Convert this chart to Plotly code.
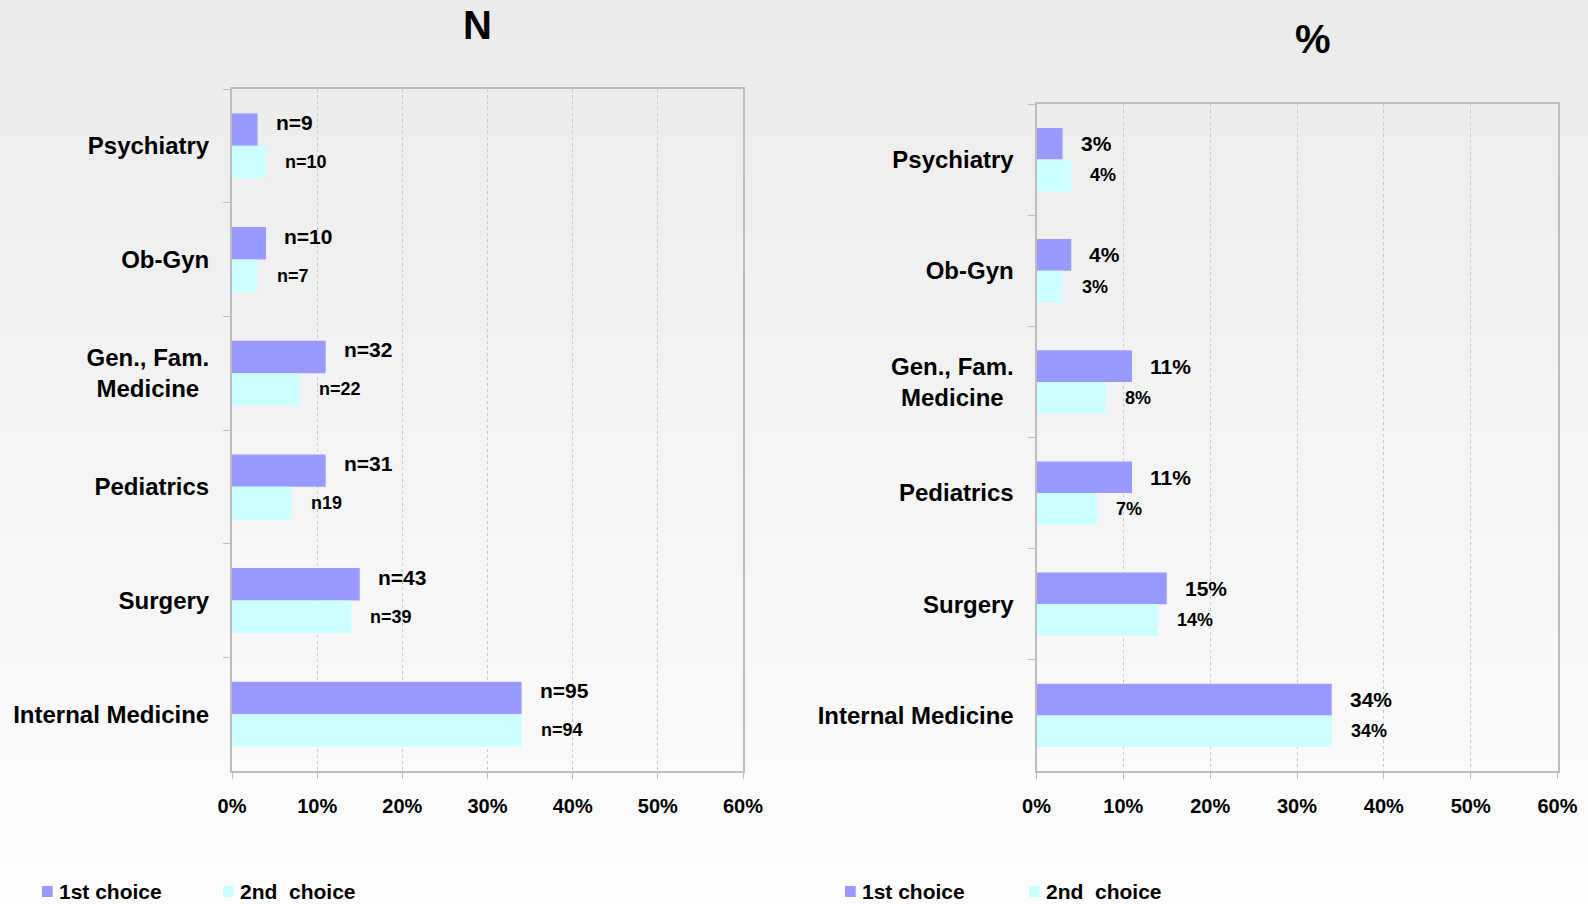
import plotly.graph_objects as go

# ---- data -------------------------------------------------------------
specialties = [
    "Psychiatry",
    "Ob-Gyn",
    "Gen., Fam.<br>Medicine\u2005\u2006",
    "Pediatrics",
    "Surgery",
    "Internal Medicine",
]
first_pct = [3, 4, 11, 11, 15, 34]
second_pct = [4, 3, 8, 7, 14, 34]
first_n = ["n=9", "n=10", "n=32", "n=31", "n=43", "n=95"]
second_n = ["n=10", "n=7", "n=22", "n19", "n=39", "n=94"]
x_ticks = [0, 10, 20, 30, 40, 50, 60]
x_tick_text = ["0%", "10%", "20%", "30%", "40%", "50%", "60%"]
series_names = ["1st choice", "2nd\u00a0 choice"]
panel_titles = ["N", "%"]

# ---- styling ------------------------------------------------------------
W, H = 1588, 904
FONT = "Liberation Sans, Arial, sans-serif"
C_FIRST = "#9999FF"
C_SECOND = "#CCFFFF"
FRAME = "#BDBDBD"
GRID = "#C8C8C8"
BARGAP = 0.43
BAR_OFF = (1 - BARGAP) / 4  # centre of each bar within its category slot


def px_x(x):
    return x / W


def px_y(y):
    return 1 - y / H


fig = go.Figure()

panels = [
    dict(xa="x", ya="y", labels=(first_n, second_n), lift=7),
    dict(xa="x2", ya="y2",
         labels=([f"{v}%" for v in first_pct], [f"{v}%" for v in second_pct]), lift=0),
]

annotations = []
for p in panels:
    for name, vals, col in ((series_names[0], first_pct, C_FIRST),
                            (series_names[1], second_pct, C_SECOND)):
        fig.add_trace(go.Bar(
            x=vals, y=specialties, orientation="h", name=name,
            marker=dict(color=col, line=dict(width=0)),
            xaxis=p["xa"], yaxis=p["ya"], showlegend=False,
            hoverinfo="x+y",
        ))
    lab1, lab2 = p["labels"]
    for i in range(len(specialties)):
        annotations.append(dict(
            x=first_pct[i], y=i - BAR_OFF, xref=p["xa"], yref=p["ya"],
            text=lab1[i], showarrow=False, xanchor="left", yanchor="middle",
            xshift=16, yshift=p["lift"],
            font=dict(family=FONT, size=21, color="black", weight="bold"),
        ))
        annotations.append(dict(
            x=second_pct[i], y=i + BAR_OFF, xref=p["xa"], yref=p["ya"],
            text=lab2[i], showarrow=False, xanchor="left", yanchor="middle",
            xshift=17,
            font=dict(family=FONT, size=18, color="black", weight="bold"),
        ))

xaxis_common = dict(
    range=[0, 60], tickmode="array", tickvals=x_ticks, ticktext=x_tick_text,
    showgrid=True, gridcolor=GRID, griddash="dot", gridwidth=1,
    showline=True, linecolor=FRAME, linewidth=2, mirror=True,
    ticks="outside", ticklen=6, tickcolor=FRAME, tickwidth=1,
    tickfont=dict(family=FONT, size=20, color="black", weight="bold"),
    ticklabelstandoff=10, zeroline=False, fixedrange=True, automargin=False,
)
yaxis_common = dict(
    type="category", autorange="reversed",
    showline=True, linecolor=FRAME, linewidth=2, mirror=True,
    ticks="outside", ticklen=7, tickcolor=FRAME, tickwidth=1,
    tickson="boundaries", showgrid=False, zeroline=False,
    tickfont=dict(family=FONT, size=24, color="black", weight="bold"),
    ticklabelstandoff=16, fixedrange=True, automargin=False,
)

fig.update_layout(
    xaxis=dict(xaxis_common, domain=[px_x(232), px_x(743)], anchor="y"),
    yaxis=dict(yaxis_common, domain=[px_y(771), px_y(89)], anchor="x"),
    xaxis2=dict(xaxis_common, domain=[px_x(1036.5), px_x(1557.5)], anchor="y2"),
    yaxis2=dict(yaxis_common, domain=[px_y(771), px_y(104)], anchor="x2"),
)

# panel titles
for title, (cx, cy) in zip(panel_titles, [(477, 25), (1313, 39)]):
    annotations.append(dict(
        x=px_x(cx), y=px_y(cy), xref="paper", yref="paper", text=title,
        showarrow=False, xanchor="center", yanchor="middle",
        font=dict(family=FONT, size=40, color="black", weight="bold"),
    ))

# background gradient, light grey at the top fading to near white
shapes = []
bands = 46
top, bottom = (235, 235, 235), (253, 253, 253)
for k in range(bands):
    t = k / (bands - 1)
    c = tuple(round(a + (b - a) * t) for a, b in zip(top, bottom))
    shapes.append(dict(
        type="rect", xref="paper", yref="paper", layer="below",
        x0=-0.01, x1=1.01, y0=px_y((k + 1) * H / bands + 1), y1=px_y(k * H / bands),
        fillcolor=f"rgb{c}", line=dict(width=0),
    ))

# legends under each panel
legend_items = [
    (42, 57, C_FIRST, series_names[0]), (223, 238, C_SECOND, series_names[1]),
    (845, 860, C_FIRST, series_names[0]), (1029, 1044, C_SECOND, series_names[1]),
]
for sx, tx, col, name in legend_items:
    shapes.append(dict(
        type="rect", xref="paper", yref="paper",
        x0=px_x(sx), x1=px_x(sx + 10.7), y0=px_y(897), y1=px_y(886),
        fillcolor=col, line=dict(width=0),
    ))
    annotations.append(dict(
        x=px_x(tx), y=px_y(891), xref="paper", yref="paper", text=name,
        showarrow=False, xanchor="left", yanchor="middle",
        font=dict(family=FONT, size=21, color="black", weight="bold"),
    ))

fig.update_layout(
    template="none",
    width=W, height=H, autosize=False,
    margin=dict(l=0, r=0, t=0, b=0, pad=0, autoexpand=False),
    paper_bgcolor="#F4F4F4", plot_bgcolor="rgba(0,0,0,0)",
    barmode="group", bargap=BARGAP, bargroupgap=0,
    showlegend=False,
    annotations=annotations, shapes=shapes,
)

fig.write_html("out.html")
